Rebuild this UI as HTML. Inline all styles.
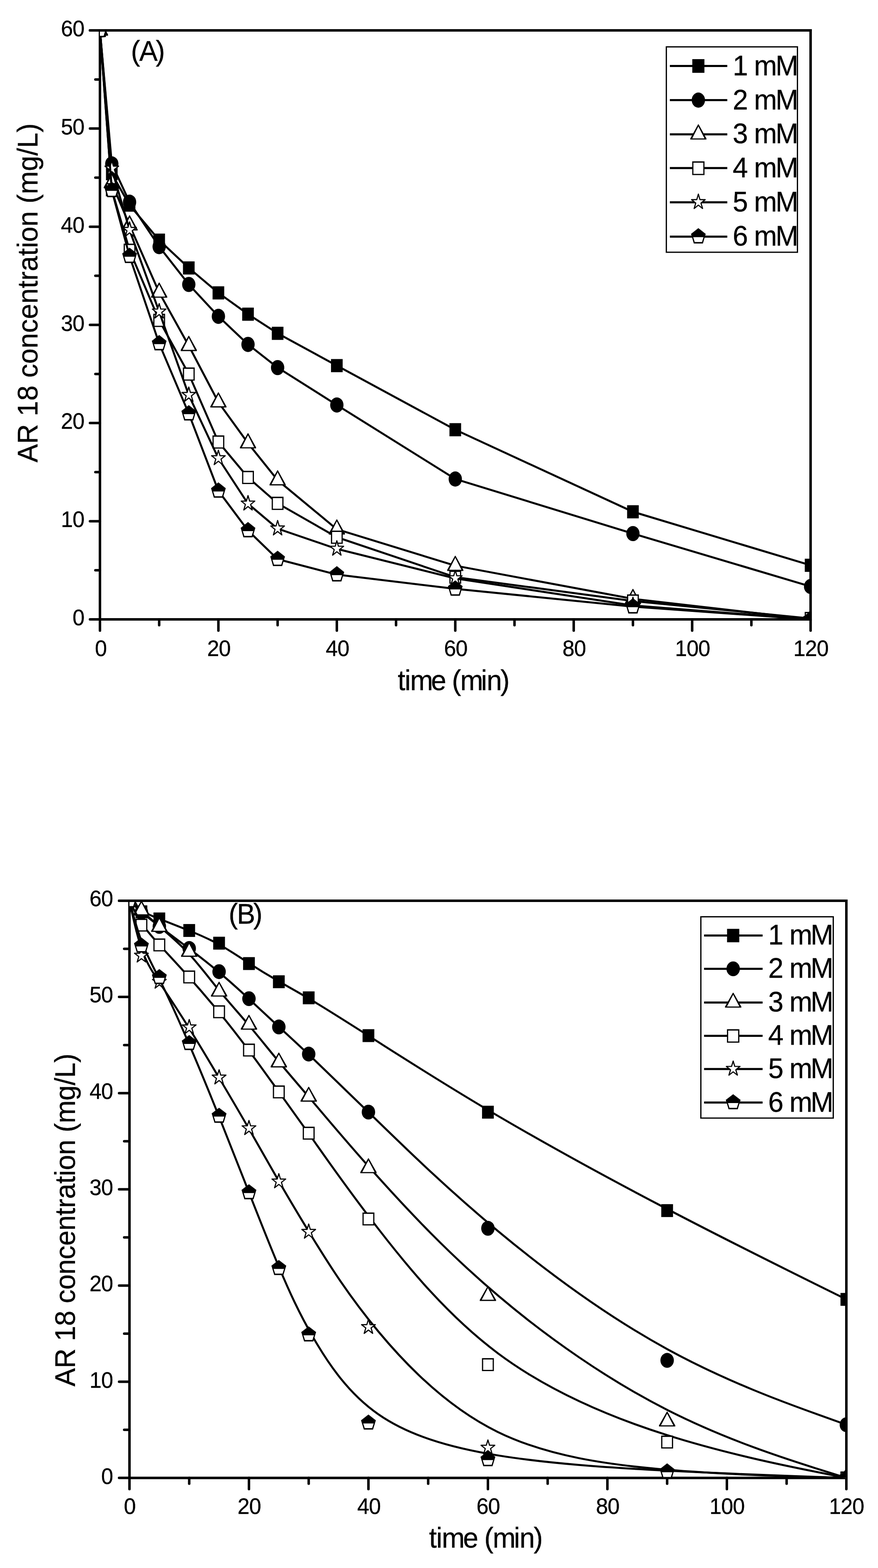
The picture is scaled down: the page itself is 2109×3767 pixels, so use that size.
<!DOCTYPE html>
<html lang="en"><head><meta charset="utf-8"><title>AR 18 concentration vs time</title>
<style>html,body{margin:0;padding:0;background:#fff}body{width:2109px;height:3767px;overflow:hidden}svg{display:block}text{font-family:'Liberation Sans', sans-serif;fill:#000}</style></head><body>
<svg width="2109" height="3767" viewBox="0 0 2109 3767">
<rect width="2109" height="3767" fill="#fff"/>
<g id="chartA">
<g stroke="#000" stroke-width="6" stroke-linecap="round" fill="none">
<line x1="240.1" y1="1488" x2="216.1" y2="1488"/>
<line x1="240.1" y1="1370.08" x2="229.1" y2="1370.08"/>
<line x1="240.1" y1="1252.17" x2="216.1" y2="1252.17"/>
<line x1="240.1" y1="1134.25" x2="229.1" y2="1134.25"/>
<line x1="240.1" y1="1016.33" x2="216.1" y2="1016.33"/>
<line x1="240.1" y1="898.42" x2="229.1" y2="898.42"/>
<line x1="240.1" y1="780.5" x2="216.1" y2="780.5"/>
<line x1="240.1" y1="662.58" x2="229.1" y2="662.58"/>
<line x1="240.1" y1="544.67" x2="216.1" y2="544.67"/>
<line x1="240.1" y1="426.75" x2="229.1" y2="426.75"/>
<line x1="240.1" y1="308.83" x2="216.1" y2="308.83"/>
<line x1="240.1" y1="190.92" x2="229.1" y2="190.92"/>
<line x1="240.1" y1="73" x2="216.1" y2="73"/>
<line x1="240.1" y1="1488" x2="240.1" y2="1515"/>
<line x1="382.35" y1="1488" x2="382.35" y2="1502"/>
<line x1="524.6" y1="1488" x2="524.6" y2="1515"/>
<line x1="666.85" y1="1488" x2="666.85" y2="1502"/>
<line x1="809.1" y1="1488" x2="809.1" y2="1515"/>
<line x1="951.35" y1="1488" x2="951.35" y2="1502"/>
<line x1="1093.6" y1="1488" x2="1093.6" y2="1515"/>
<line x1="1235.85" y1="1488" x2="1235.85" y2="1502"/>
<line x1="1378.1" y1="1488" x2="1378.1" y2="1515"/>
<line x1="1520.35" y1="1488" x2="1520.35" y2="1502"/>
<line x1="1662.6" y1="1488" x2="1662.6" y2="1515"/>
<line x1="1804.85" y1="1488" x2="1804.85" y2="1502"/>
<line x1="1947.1" y1="1488" x2="1947.1" y2="1515"/>
</g>
<rect x="240.1" y="73" width="1707" height="1415" fill="none" stroke="#000" stroke-width="6"/>
<clipPath id="clipA"><rect x="240.1" y="73" width="1707" height="1415"/></clipPath>
<g clip-path="url(#clipA)">
<path d="M240.1,73 L268.55,417.32 L311.23,492.78 L382.35,576.98 L453.48,643.72 L524.6,703.62 L595.73,754.79 L666.85,800.78 L809.1,878.37 L1093.6,1032.37 L1520.35,1229.53 L1947.1,1358.06" fill="none" stroke="#000" stroke-width="4.8" stroke-linejoin="round"/>
<rect x="226.1" y="57.2" width="28" height="31.6" fill="#000"/>
<rect x="254.55" y="401.52" width="28" height="31.6" fill="#000"/>
<rect x="297.23" y="476.98" width="28" height="31.6" fill="#000"/>
<rect x="368.35" y="561.18" width="28" height="31.6" fill="#000"/>
<rect x="439.48" y="627.92" width="28" height="31.6" fill="#000"/>
<rect x="510.6" y="687.82" width="28" height="31.6" fill="#000"/>
<rect x="581.73" y="738.99" width="28" height="31.6" fill="#000"/>
<rect x="652.85" y="784.98" width="28" height="31.6" fill="#000"/>
<rect x="795.1" y="862.57" width="28" height="31.6" fill="#000"/>
<rect x="1079.6" y="1016.57" width="28" height="31.6" fill="#000"/>
<rect x="1506.35" y="1213.73" width="28" height="31.6" fill="#000"/>
<rect x="1933.1" y="1342.26" width="28" height="31.6" fill="#000"/>
<path d="M240.1,73 L268.55,393.73 L311.23,485.71 L382.35,592.54 L453.48,683.34 L524.6,759.98 L595.73,827.43 L666.85,883.09 L809.1,972.94 L1093.6,1150.76 L1520.35,1281.88 L1947.1,1409" fill="none" stroke="#000" stroke-width="4.8" stroke-linejoin="round"/>
<ellipse cx="240.1" cy="73" rx="16" ry="18.2" fill="#000"/>
<ellipse cx="268.55" cy="393.73" rx="16" ry="18.2" fill="#000"/>
<ellipse cx="311.23" cy="485.71" rx="16" ry="18.2" fill="#000"/>
<ellipse cx="382.35" cy="592.54" rx="16" ry="18.2" fill="#000"/>
<ellipse cx="453.48" cy="683.34" rx="16" ry="18.2" fill="#000"/>
<ellipse cx="524.6" cy="759.98" rx="16" ry="18.2" fill="#000"/>
<ellipse cx="595.73" cy="827.43" rx="16" ry="18.2" fill="#000"/>
<ellipse cx="666.85" cy="883.09" rx="16" ry="18.2" fill="#000"/>
<ellipse cx="809.1" cy="972.94" rx="16" ry="18.2" fill="#000"/>
<ellipse cx="1093.6" cy="1150.76" rx="16" ry="18.2" fill="#000"/>
<ellipse cx="1520.35" cy="1281.88" rx="16" ry="18.2" fill="#000"/>
<ellipse cx="1947.1" cy="1409" rx="16" ry="18.2" fill="#000"/>
<path d="M240.1,73 L268.55,439.72 L311.23,541.13 L382.35,702.68 L453.48,830.73 L524.6,966.34 L595.73,1064.68 L666.85,1153.59 L809.1,1271.51 L1093.6,1359 L1520.35,1438.71 L1947.1,1488" fill="none" stroke="#000" stroke-width="4.8" stroke-linejoin="round"/>
<polygon points="239.38,49.14 240.82,49.14 259.5,83.09 259.5,85.65 220.7,85.65 220.7,83.09" fill="#000"/><polygon points="240.1,54.07 254.76,82.75 225.44,82.75" fill="#fff"/>
<polygon points="267.83,415.86 269.27,415.86 287.95,449.81 287.95,452.37 249.15,452.37 249.15,449.81" fill="#000"/><polygon points="268.55,420.79 283.21,449.47 253.89,449.47" fill="#fff"/>
<polygon points="310.5,517.27 311.95,517.27 330.62,551.22 330.62,553.78 291.83,553.78 291.83,551.22" fill="#000"/><polygon points="311.23,522.2 325.89,550.88 296.56,550.88" fill="#fff"/>
<polygon points="381.63,678.82 383.07,678.82 401.75,712.77 401.75,715.33 362.95,715.33 362.95,712.77" fill="#000"/><polygon points="382.35,683.75 397.01,712.43 367.69,712.43" fill="#fff"/>
<polygon points="452.75,806.87 454.2,806.87 472.88,840.82 472.88,843.38 434.08,843.38 434.08,840.82" fill="#000"/><polygon points="453.48,811.8 468.14,840.48 438.81,840.48" fill="#fff"/>
<polygon points="523.88,942.48 525.32,942.48 544,976.43 544,978.99 505.2,978.99 505.2,976.43" fill="#000"/><polygon points="524.6,947.41 539.26,976.09 509.94,976.09" fill="#fff"/>
<polygon points="595,1040.82 596.45,1040.82 615.12,1074.77 615.12,1077.33 576.33,1077.33 576.33,1074.77" fill="#000"/><polygon points="595.73,1045.75 610.39,1074.43 581.06,1074.43" fill="#fff"/>
<polygon points="666.13,1129.73 667.57,1129.73 686.25,1163.68 686.25,1166.24 647.45,1166.24 647.45,1163.68" fill="#000"/><polygon points="666.85,1134.66 681.51,1163.34 652.19,1163.34" fill="#fff"/>
<polygon points="808.38,1247.65 809.82,1247.65 828.5,1281.6 828.5,1284.16 789.7,1284.16 789.7,1281.6" fill="#000"/><polygon points="809.1,1252.58 823.76,1281.26 794.44,1281.26" fill="#fff"/>
<polygon points="1092.88,1335.14 1094.32,1335.14 1113,1369.09 1113,1371.65 1074.2,1371.65 1074.2,1369.09" fill="#000"/><polygon points="1093.6,1340.07 1108.26,1368.75 1078.94,1368.75" fill="#fff"/>
<polygon points="1519.63,1414.85 1521.07,1414.85 1539.75,1448.8 1539.75,1451.36 1500.95,1451.36 1500.95,1448.8" fill="#000"/><polygon points="1520.35,1419.78 1535.01,1448.46 1505.69,1448.46" fill="#fff"/>
<polygon points="1946.38,1464.14 1947.82,1464.14 1966.5,1498.09 1966.5,1500.65 1927.7,1500.65 1927.7,1498.09" fill="#000"/><polygon points="1947.1,1469.07 1961.76,1497.75 1932.44,1497.75" fill="#fff"/>
<path d="M240.1,73 L268.55,455.76 L311.23,601.27 L382.35,769.65 L453.48,898.65 L524.6,1061.85 L595.73,1146.98 L666.85,1209.24 L809.1,1290.61 L1093.6,1386.59 L1520.35,1443.9 L1947.1,1485.88" fill="none" stroke="#000" stroke-width="4.8" stroke-linejoin="round"/>
<rect x="225.9" y="57.1" width="28.4" height="31.8" fill="#000"/><rect x="228.8" y="60.4" width="22.6" height="25.6" fill="#fff"/>
<rect x="254.35" y="439.86" width="28.4" height="31.8" fill="#000"/><rect x="257.25" y="443.16" width="22.6" height="25.6" fill="#fff"/>
<rect x="297.03" y="585.37" width="28.4" height="31.8" fill="#000"/><rect x="299.93" y="588.67" width="22.6" height="25.6" fill="#fff"/>
<rect x="368.15" y="753.75" width="28.4" height="31.8" fill="#000"/><rect x="371.05" y="757.05" width="22.6" height="25.6" fill="#fff"/>
<rect x="439.28" y="882.75" width="28.4" height="31.8" fill="#000"/><rect x="442.18" y="886.05" width="22.6" height="25.6" fill="#fff"/>
<rect x="510.4" y="1045.95" width="28.4" height="31.8" fill="#000"/><rect x="513.3" y="1049.25" width="22.6" height="25.6" fill="#fff"/>
<rect x="581.52" y="1131.08" width="28.4" height="31.8" fill="#000"/><rect x="584.42" y="1134.38" width="22.6" height="25.6" fill="#fff"/>
<rect x="652.65" y="1193.34" width="28.4" height="31.8" fill="#000"/><rect x="655.55" y="1196.64" width="22.6" height="25.6" fill="#fff"/>
<rect x="794.9" y="1274.71" width="28.4" height="31.8" fill="#000"/><rect x="797.8" y="1278.01" width="22.6" height="25.6" fill="#fff"/>
<rect x="1079.4" y="1370.69" width="28.4" height="31.8" fill="#000"/><rect x="1082.3" y="1373.99" width="22.6" height="25.6" fill="#fff"/>
<rect x="1506.15" y="1428" width="28.4" height="31.8" fill="#000"/><rect x="1509.05" y="1431.3" width="22.6" height="25.6" fill="#fff"/>
<rect x="1932.9" y="1469.98" width="28.4" height="31.8" fill="#000"/><rect x="1935.8" y="1473.28" width="22.6" height="25.6" fill="#fff"/>
<path d="M240.1,73 L268.55,405.53 L311.23,552.69 L382.35,748.9 L453.48,949.36 L524.6,1101.23 L595.73,1210.19 L666.85,1270.09 L809.1,1318.67 L1093.6,1389.66 L1520.35,1454.51 L1947.1,1488" fill="none" stroke="#000" stroke-width="4.8" stroke-linejoin="round"/>
<polygon points="240.1,53.4 243.96,66.6 256.46,66.6 246.35,74.75 250.21,87.95 240.1,79.8 229.99,87.95 233.85,74.75 223.74,66.6 236.24,66.6" fill="#fff" stroke="#000" stroke-width="2.7" stroke-linejoin="round"/>
<polygon points="268.55,385.93 272.41,399.12 284.91,399.12 274.8,407.28 278.66,420.48 268.55,412.32 258.44,420.48 262.3,407.28 252.19,399.12 264.69,399.12" fill="#fff" stroke="#000" stroke-width="2.7" stroke-linejoin="round"/>
<polygon points="311.23,533.09 315.09,546.28 327.58,546.28 317.47,554.44 321.33,567.64 311.23,559.48 301.12,567.64 304.98,554.44 294.87,546.28 307.36,546.28" fill="#fff" stroke="#000" stroke-width="2.7" stroke-linejoin="round"/>
<polygon points="382.35,729.3 386.21,742.5 398.71,742.5 388.6,750.65 392.46,763.85 382.35,755.69 372.24,763.85 376.1,750.65 365.99,742.5 378.49,742.5" fill="#fff" stroke="#000" stroke-width="2.7" stroke-linejoin="round"/>
<polygon points="453.48,929.76 457.34,942.95 469.83,942.95 459.72,951.11 463.58,964.31 453.48,956.15 443.37,964.31 447.23,951.11 437.12,942.95 449.61,942.95" fill="#fff" stroke="#000" stroke-width="2.7" stroke-linejoin="round"/>
<polygon points="524.6,1081.63 528.46,1094.83 540.96,1094.83 530.85,1102.99 534.71,1116.19 524.6,1108.03 514.49,1116.19 518.35,1102.99 508.24,1094.83 520.74,1094.83" fill="#fff" stroke="#000" stroke-width="2.7" stroke-linejoin="round"/>
<polygon points="595.73,1190.59 599.59,1203.79 612.08,1203.79 601.97,1211.94 605.83,1225.14 595.73,1216.98 585.62,1225.14 589.48,1211.94 579.37,1203.79 591.86,1203.79" fill="#fff" stroke="#000" stroke-width="2.7" stroke-linejoin="round"/>
<polygon points="666.85,1250.49 670.71,1263.69 683.21,1263.69 673.1,1271.84 676.96,1285.04 666.85,1276.89 656.74,1285.04 660.6,1271.84 650.49,1263.69 662.99,1263.69" fill="#fff" stroke="#000" stroke-width="2.7" stroke-linejoin="round"/>
<polygon points="809.1,1299.07 812.96,1312.27 825.46,1312.27 815.35,1320.43 819.21,1333.62 809.1,1325.47 798.99,1333.62 802.85,1320.43 792.74,1312.27 805.24,1312.27" fill="#fff" stroke="#000" stroke-width="2.7" stroke-linejoin="round"/>
<polygon points="1093.6,1370.06 1097.46,1383.25 1109.96,1383.26 1099.85,1391.41 1103.71,1404.61 1093.6,1396.45 1083.49,1404.61 1087.35,1391.41 1077.24,1383.26 1089.74,1383.25" fill="#fff" stroke="#000" stroke-width="2.7" stroke-linejoin="round"/>
<polygon points="1520.35,1434.91 1524.21,1448.11 1536.71,1448.11 1526.6,1456.27 1530.46,1469.46 1520.35,1461.31 1510.24,1469.46 1514.1,1456.27 1503.99,1448.11 1516.49,1448.11" fill="#fff" stroke="#000" stroke-width="2.7" stroke-linejoin="round"/>
<polygon points="1947.1,1468.4 1950.96,1481.6 1963.46,1481.6 1953.35,1489.75 1957.21,1502.95 1947.1,1494.8 1936.99,1502.95 1940.85,1489.75 1930.74,1481.6 1943.24,1481.6" fill="#fff" stroke="#000" stroke-width="2.7" stroke-linejoin="round"/>
<path d="M240.1,73 L268.55,457.17 L311.23,615.42 L382.35,825.31 L453.48,993.69 L524.6,1179.29 L595.73,1274.57 L666.85,1343.43 L809.1,1380.46 L1093.6,1414.66 L1520.35,1457.34 L1947.1,1488" fill="none" stroke="#000" stroke-width="4.8" stroke-linejoin="round"/>
<polygon points="240.1,52.55 257.79,66.68 251.03,89.54 229.17,89.54 222.41,66.68" fill="#000"/><polygon points="227.72,74.4 252.48,74.4 248.87,86.04 231.33,86.04" fill="#fff"/>
<polygon points="268.55,436.72 286.24,450.85 279.48,473.72 257.62,473.72 250.86,450.85" fill="#000"/><polygon points="256.17,458.57 280.93,458.57 277.32,470.22 259.78,470.22" fill="#fff"/>
<polygon points="311.23,594.97 328.91,609.1 322.16,631.96 300.29,631.96 293.54,609.1" fill="#000"/><polygon points="298.84,616.82 323.61,616.82 319.99,628.46 302.46,628.46" fill="#fff"/>
<polygon points="382.35,804.86 400.04,818.99 393.28,841.85 371.42,841.85 364.66,818.99" fill="#000"/><polygon points="369.97,826.71 394.73,826.71 391.12,838.35 373.58,838.35" fill="#fff"/>
<polygon points="453.48,973.24 471.16,987.37 464.41,1010.24 442.54,1010.24 435.79,987.37" fill="#000"/><polygon points="441.09,995.09 465.86,995.09 462.24,1006.74 444.71,1006.74" fill="#fff"/>
<polygon points="524.6,1158.84 542.29,1172.97 535.53,1195.84 513.67,1195.84 506.91,1172.97" fill="#000"/><polygon points="512.22,1180.69 536.98,1180.69 533.37,1192.34 515.83,1192.34" fill="#fff"/>
<polygon points="595.73,1254.12 613.41,1268.25 606.66,1291.12 584.79,1291.12 578.04,1268.25" fill="#000"/><polygon points="583.34,1275.97 608.11,1275.97 604.49,1287.62 586.96,1287.62" fill="#fff"/>
<polygon points="666.85,1322.98 684.54,1337.11 677.78,1359.98 655.92,1359.98 649.16,1337.11" fill="#000"/><polygon points="654.47,1344.83 679.23,1344.83 675.62,1356.48 658.08,1356.48" fill="#fff"/>
<polygon points="809.1,1360.01 826.79,1374.14 820.03,1397 798.17,1397 791.41,1374.14" fill="#000"/><polygon points="796.72,1381.86 821.48,1381.86 817.87,1393.5 800.33,1393.5" fill="#fff"/>
<polygon points="1093.6,1394.21 1111.29,1408.34 1104.53,1431.2 1082.67,1431.2 1075.91,1408.34" fill="#000"/><polygon points="1081.22,1416.06 1105.98,1416.06 1102.37,1427.7 1084.83,1427.7" fill="#fff"/>
<polygon points="1520.35,1436.89 1538.04,1451.02 1531.28,1473.89 1509.42,1473.89 1502.66,1451.02" fill="#000"/><polygon points="1507.97,1458.74 1532.73,1458.74 1529.12,1470.39 1511.58,1470.39" fill="#fff"/>
<polygon points="1947.1,1467.55 1964.79,1481.68 1958.03,1504.54 1936.17,1504.54 1929.41,1481.68" fill="#000"/><polygon points="1934.72,1489.4 1959.48,1489.4 1955.87,1501.04 1938.33,1501.04" fill="#fff"/>
</g>
<line x1="216.1" y1="73" x2="1947.1" y2="73" stroke="#000" stroke-width="6" stroke-linecap="round"/>
<text transform="translate(174.35,1502) scale(0.966,1)" x="0" y="0" font-size="54" stroke="#000" stroke-width="0.4" xml:space="preserve">0</text>
<text transform="translate(146.36,1266.23) scale(0.966,1)" x="0 28.98" y="0" font-size="54" stroke="#000" stroke-width="0.4" xml:space="preserve">10</text>
<text transform="translate(146.36,1030.47) scale(0.966,1)" x="0 28.98" y="0" font-size="54" stroke="#000" stroke-width="0.4" xml:space="preserve">20</text>
<text transform="translate(146.36,794.7) scale(0.966,1)" x="0 28.98" y="0" font-size="54" stroke="#000" stroke-width="0.4" xml:space="preserve">30</text>
<text transform="translate(146.36,558.93) scale(0.966,1)" x="0 28.98" y="0" font-size="54" stroke="#000" stroke-width="0.4" xml:space="preserve">40</text>
<text transform="translate(146.36,323.17) scale(0.966,1)" x="0 28.98" y="0" font-size="54" stroke="#000" stroke-width="0.4" xml:space="preserve">50</text>
<text transform="translate(146.36,87.4) scale(0.966,1)" x="0 28.98" y="0" font-size="54" stroke="#000" stroke-width="0.4" xml:space="preserve">60</text>
<text transform="translate(227.91,1575.8) scale(0.966,1)" x="0" y="0" font-size="54" stroke="#000" stroke-width="0.4" xml:space="preserve">0</text>
<text transform="translate(497.56,1575.8) scale(0.966,1)" x="0 28.98" y="0" font-size="54" stroke="#000" stroke-width="0.4" xml:space="preserve">20</text>
<text transform="translate(782.55,1575.8) scale(0.966,1)" x="0 28.98" y="0" font-size="54" stroke="#000" stroke-width="0.4" xml:space="preserve">40</text>
<text transform="translate(1066.56,1575.8) scale(0.966,1)" x="0 28.98" y="0" font-size="54" stroke="#000" stroke-width="0.4" xml:space="preserve">60</text>
<text transform="translate(1351.06,1575.8) scale(0.966,1)" x="0 28.98" y="0" font-size="54" stroke="#000" stroke-width="0.4" xml:space="preserve">80</text>
<text transform="translate(1621.36,1575.8) scale(0.966,1)" x="0 28.98 57.96" y="0" font-size="54" stroke="#000" stroke-width="0.4" xml:space="preserve">100</text>
<text transform="translate(1905.86,1575.8) scale(0.966,1)" x="0 28.98 57.96" y="0" font-size="54" stroke="#000" stroke-width="0.4" xml:space="preserve">120</text>
<text transform="translate(955.23,1658) scale(0.966,1)" x="0 17.29 31.11 82.94 117.54 134.83 155.55 207.38 221.21 255.81" y="0" font-size="68.5" stroke="#000" stroke-width="0.4" xml:space="preserve">time (min)</text>
<text transform="translate(90,1111) rotate(-90) translate(0,0) scale(0.966,1)" x="0 46.01 95.83 114.99 153.36 191.72 210.89 245.38 283.74 322.11 356.6 394.96 433.33 452.49 475.47 513.83 533 548.32 586.69 625.05 644.22 667.19 724.65 763.01 782.18 820.54" y="0" font-size="68.5" stroke="#000" stroke-width="0.4" xml:space="preserve">AR 18 concentration (mg/L)</text>
<text transform="translate(314.54,146.2) scale(0.966,1)" x="0 20.55 61.71" y="0" font-size="68.5" stroke="#000" stroke-width="0.4" xml:space="preserve">(A)</text>
<rect x="1600.6" y="112.6" width="314.9" height="493.4" fill="#fff" stroke="#000" stroke-width="3"/>
<line x1="1609" y1="158.5" x2="1747" y2="158.5" stroke="#000" stroke-width="5" stroke-linecap="butt"/>
<rect x="1662.94" y="142.07" width="29.12" height="32.86" fill="#000"/>
<text transform="translate(1760,180.8) scale(0.966,1)" x="0 35.46 53.17 106.28" y="0" font-size="68.5" stroke="#000" stroke-width="0.4" xml:space="preserve">1 mM</text>
<line x1="1609" y1="240.5" x2="1747" y2="240.5" stroke="#000" stroke-width="5" stroke-linecap="butt"/>
<ellipse cx="1677.5" cy="240.5" rx="16" ry="18.2" fill="#000"/>
<text transform="translate(1760,262.58) scale(0.966,1)" x="0 35.46 53.17 106.28" y="0" font-size="68.5" stroke="#000" stroke-width="0.4" xml:space="preserve">2 mM</text>
<line x1="1609" y1="322.7" x2="1747" y2="322.7" stroke="#000" stroke-width="5" stroke-linecap="butt"/>
<polygon points="1676.78,298.84 1678.22,298.84 1696.9,332.79 1696.9,335.35 1658.1,335.35 1658.1,332.79" fill="#000"/><polygon points="1677.5,303.77 1692.16,332.45 1662.84,332.45" fill="#fff"/>
<text transform="translate(1760,344.36) scale(0.966,1)" x="0 35.46 53.17 106.28" y="0" font-size="68.5" stroke="#000" stroke-width="0.4" xml:space="preserve">3 mM</text>
<line x1="1609" y1="403.7" x2="1747" y2="403.7" stroke="#000" stroke-width="5" stroke-linecap="butt"/>
<rect x="1662.73" y="387.56" width="29.54" height="33.07" fill="#000"/><rect x="1665.63" y="390.86" width="23.74" height="26.87" fill="#fff"/>
<text transform="translate(1760,426.14) scale(0.966,1)" x="0 35.46 53.17 106.28" y="0" font-size="68.5" stroke="#000" stroke-width="0.4" xml:space="preserve">4 mM</text>
<line x1="1609" y1="486" x2="1747" y2="486" stroke="#000" stroke-width="5" stroke-linecap="butt"/>
<polygon points="1677.5,466.4 1681.36,479.6 1693.86,479.6 1683.75,487.75 1687.61,500.95 1677.5,492.8 1667.39,500.95 1671.25,487.75 1661.14,479.6 1673.64,479.6" fill="#fff" stroke="#000" stroke-width="2.7" stroke-linejoin="round"/>
<text transform="translate(1760,507.92) scale(0.966,1)" x="0 35.46 53.17 106.28" y="0" font-size="68.5" stroke="#000" stroke-width="0.4" xml:space="preserve">5 mM</text>
<line x1="1609" y1="568.4" x2="1747" y2="568.4" stroke="#000" stroke-width="5" stroke-linecap="butt"/>
<polygon points="1677.5,547.95 1695.19,562.08 1688.43,584.94 1666.57,584.94 1659.81,562.08" fill="#000"/><polygon points="1665.12,569.8 1689.88,569.8 1686.27,581.44 1668.73,581.44" fill="#fff"/>
<text transform="translate(1760,589.7) scale(0.966,1)" x="0 35.46 53.17 106.28" y="0" font-size="68.5" stroke="#000" stroke-width="0.4" xml:space="preserve">6 mM</text>
</g>
<g id="chartB">
<g stroke="#000" stroke-width="6" stroke-linecap="round" fill="none">
<line x1="311" y1="3550.6" x2="286" y2="3550.6"/>
<line x1="311" y1="3435.05" x2="298.3" y2="3435.05"/>
<line x1="311" y1="3319.5" x2="286" y2="3319.5"/>
<line x1="311" y1="3203.95" x2="298.3" y2="3203.95"/>
<line x1="311" y1="3088.4" x2="286" y2="3088.4"/>
<line x1="311" y1="2972.85" x2="298.3" y2="2972.85"/>
<line x1="311" y1="2857.3" x2="286" y2="2857.3"/>
<line x1="311" y1="2741.75" x2="298.3" y2="2741.75"/>
<line x1="311" y1="2626.2" x2="286" y2="2626.2"/>
<line x1="311" y1="2510.65" x2="298.3" y2="2510.65"/>
<line x1="311" y1="2395.1" x2="286" y2="2395.1"/>
<line x1="311" y1="2279.55" x2="298.3" y2="2279.55"/>
<line x1="311" y1="2164" x2="286" y2="2164"/>
<line x1="311" y1="3550.6" x2="311" y2="3577.6"/>
<line x1="454.5" y1="3550.6" x2="454.5" y2="3564.6"/>
<line x1="598" y1="3550.6" x2="598" y2="3577.6"/>
<line x1="741.5" y1="3550.6" x2="741.5" y2="3564.6"/>
<line x1="885" y1="3550.6" x2="885" y2="3577.6"/>
<line x1="1028.5" y1="3550.6" x2="1028.5" y2="3564.6"/>
<line x1="1172" y1="3550.6" x2="1172" y2="3577.6"/>
<line x1="1315.5" y1="3550.6" x2="1315.5" y2="3564.6"/>
<line x1="1459" y1="3550.6" x2="1459" y2="3577.6"/>
<line x1="1602.5" y1="3550.6" x2="1602.5" y2="3564.6"/>
<line x1="1746" y1="3550.6" x2="1746" y2="3577.6"/>
<line x1="1889.5" y1="3550.6" x2="1889.5" y2="3564.6"/>
<line x1="2033" y1="3550.6" x2="2033" y2="3577.6"/>
</g>
<rect x="311" y="2164" width="1722" height="1386.6" fill="none" stroke="#000" stroke-width="6"/>
<clipPath id="clipB"><rect x="311" y="2164" width="1722" height="1386.6"/></clipPath>
<g clip-path="url(#clipB)">
<path d="M311.0,2164.0C311.0,2164.0 311.0,2164.0 315.8,2168.4C320.6,2172.9 330.1,2181.7 342.1,2189.0C354.1,2196.3 368.4,2202.0 387.5,2209.4C406.7,2216.9 430.6,2226.2 454.5,2235.9C478.4,2245.6 502.3,2255.7 526.2,2269.0C550.2,2282.2 574.1,2298.6 598.0,2314.0C621.9,2329.5 645.8,2344.0 669.8,2357.7C693.7,2371.5 717.6,2384.3 753.5,2405.9C789.3,2427.5 837.2,2457.7 908.9,2503.5C980.7,2549.3 1076.3,2610.6 1195.9,2680.7C1315.5,2750.8 1459.0,2829.6 1602.5,2904.5C1746.0,2979.5 1889.5,3050.6 1961.2,3086.1C2033.0,3121.7 2033.0,3121.7 2033.0,3121.7" fill="none" stroke="#000" stroke-width="4.8" stroke-linejoin="round"/>
<rect x="296.88" y="2148.52" width="28.25" height="30.97" fill="#000"/>
<rect x="325.58" y="2175.09" width="28.25" height="30.97" fill="#000"/>
<rect x="368.63" y="2192.19" width="28.25" height="30.97" fill="#000"/>
<rect x="440.38" y="2219.93" width="28.25" height="30.97" fill="#000"/>
<rect x="512.13" y="2250.43" width="28.25" height="30.97" fill="#000"/>
<rect x="583.88" y="2299.42" width="28.25" height="30.97" fill="#000"/>
<rect x="655.63" y="2343.1" width="28.25" height="30.97" fill="#000"/>
<rect x="727.38" y="2381.7" width="28.25" height="30.97" fill="#000"/>
<rect x="870.88" y="2472.52" width="28.25" height="30.97" fill="#000"/>
<rect x="1157.88" y="2656.47" width="28.25" height="30.97" fill="#000"/>
<rect x="1588.38" y="2892.89" width="28.25" height="30.97" fill="#000"/>
<rect x="2018.88" y="3106.19" width="28.25" height="30.97" fill="#000"/>
<path d="M311.0,2164.0C311.0,2164.0 311.0,2164.0 315.8,2168.6C320.6,2173.2 330.1,2182.5 342.1,2192.8C354.1,2203.1 368.4,2214.4 387.5,2228.9C406.7,2243.3 430.6,2261.0 454.5,2279.1C478.4,2297.2 502.3,2315.8 526.2,2335.9C550.2,2356.0 574.1,2377.6 598.0,2399.8C621.9,2421.9 645.8,2444.6 669.8,2466.7C693.7,2488.9 717.6,2510.7 753.5,2544.7C789.3,2578.8 837.2,2625.3 908.9,2695.0C980.7,2764.8 1076.3,2857.8 1195.9,2957.3C1315.5,3056.7 1459.0,3162.4 1602.5,3241.1C1746.0,3319.7 1889.5,3371.3 1961.2,3397.0C2033.0,3422.8 2033.0,3422.8 2033.0,3422.8" fill="none" stroke="#000" stroke-width="4.8" stroke-linejoin="round"/>
<ellipse cx="311" cy="2164" rx="16.14" ry="17.84" fill="#000"/>
<ellipse cx="339.7" cy="2191.73" rx="16.14" ry="17.84" fill="#000"/>
<ellipse cx="382.75" cy="2225.7" rx="16.14" ry="17.84" fill="#000"/>
<ellipse cx="454.5" cy="2278.63" rx="16.14" ry="17.84" fill="#000"/>
<ellipse cx="526.25" cy="2334.32" rx="16.14" ry="17.84" fill="#000"/>
<ellipse cx="598" cy="2399.26" rx="16.14" ry="17.84" fill="#000"/>
<ellipse cx="669.75" cy="2467.2" rx="16.14" ry="17.84" fill="#000"/>
<ellipse cx="741.5" cy="2532.37" rx="16.14" ry="17.84" fill="#000"/>
<ellipse cx="885" cy="2671.73" rx="16.14" ry="17.84" fill="#000"/>
<ellipse cx="1172" cy="2950.9" rx="16.14" ry="17.84" fill="#000"/>
<ellipse cx="1602.5" cy="3268.2" rx="16.14" ry="17.84" fill="#000"/>
<ellipse cx="2033" cy="3422.8" rx="16.14" ry="17.84" fill="#000"/>
<path d="M311.0,2164.0C311.0,2164.0 311.0,2164.0 315.8,2167.9C320.6,2171.7 330.1,2179.4 342.1,2189.8C354.1,2200.2 368.4,2213.3 387.5,2229.8C406.7,2246.3 430.6,2266.3 454.5,2292.2C478.4,2318.1 502.3,2350.0 526.2,2379.2C550.2,2408.4 574.1,2434.9 598.0,2463.3C621.9,2491.6 645.8,2521.8 669.8,2550.6C693.7,2579.4 717.6,2606.9 753.5,2649.2C789.3,2691.6 837.2,2748.9 908.9,2828.7C980.7,2908.5 1076.3,3010.8 1195.9,3112.2C1315.5,3213.7 1459.0,3314.2 1602.5,3387.1C1746.0,3460.0 1889.5,3505.3 1961.2,3528.0C2033.0,3550.6 2033.0,3550.6 2033.0,3550.6" fill="none" stroke="#000" stroke-width="4.8" stroke-linejoin="round"/>
<polygon points="310.28,2140.65 311.72,2140.65 330.57,2173.84 330.57,2176.4 291.43,2176.4 291.43,2173.84" fill="#000"/><polygon points="311,2145.43 325.77,2173.5 296.23,2173.5" fill="#fff"/>
<polygon points="338.98,2163.76 340.42,2163.76 359.27,2196.95 359.27,2199.51 320.13,2199.51 320.13,2196.95" fill="#000"/><polygon points="339.7,2168.54 354.47,2196.61 324.93,2196.61" fill="#fff"/>
<polygon points="382.03,2203.04 383.47,2203.04 402.32,2236.23 402.32,2238.79 363.18,2238.79 363.18,2236.23" fill="#000"/><polygon points="382.75,2207.83 397.52,2235.89 367.98,2235.89" fill="#fff"/>
<polygon points="453.78,2262.9 455.22,2262.9 474.07,2296.09 474.07,2298.65 434.93,2298.65 434.93,2296.09" fill="#000"/><polygon points="454.5,2267.69 469.27,2295.75 439.73,2295.75" fill="#fff"/>
<polygon points="525.53,2358.57 526.97,2358.57 545.82,2391.76 545.82,2394.32 506.68,2394.32 506.68,2391.76" fill="#000"/><polygon points="526.25,2363.36 541.02,2391.42 511.48,2391.42" fill="#fff"/>
<polygon points="597.28,2438.07 598.72,2438.07 617.57,2471.26 617.57,2473.82 578.43,2473.82 578.43,2471.26" fill="#000"/><polygon points="598,2442.86 612.77,2470.92 583.23,2470.92" fill="#fff"/>
<polygon points="669.03,2528.66 670.47,2528.66 689.32,2561.85 689.32,2564.41 650.18,2564.41 650.18,2561.85" fill="#000"/><polygon points="669.75,2533.45 684.52,2561.51 654.98,2561.51" fill="#fff"/>
<polygon points="740.78,2610.93 742.22,2610.93 761.07,2644.13 761.07,2646.69 721.93,2646.69 721.93,2644.13" fill="#000"/><polygon points="741.5,2615.72 756.27,2643.79 726.73,2643.79" fill="#fff"/>
<polygon points="884.28,2782.87 885.72,2782.87 904.57,2816.06 904.57,2818.62 865.43,2818.62 865.43,2816.06" fill="#000"/><polygon points="885,2787.66 899.77,2815.72 870.23,2815.72" fill="#fff"/>
<polygon points="1171.28,3089.77 1172.72,3089.77 1191.57,3122.96 1191.57,3125.52 1152.43,3125.52 1152.43,3122.96" fill="#000"/><polygon points="1172,3094.56 1186.77,3122.62 1157.23,3122.62" fill="#fff"/>
<polygon points="1601.78,3391.36 1603.22,3391.36 1622.07,3424.55 1622.07,3427.11 1582.93,3427.11 1582.93,3424.55" fill="#000"/><polygon points="1602.5,3396.15 1617.27,3424.21 1587.73,3424.21" fill="#fff"/>
<polygon points="2032.28,3527.25 2033.72,3527.25 2052.57,3560.44 2052.57,3563 2013.43,3563 2013.43,3560.44" fill="#000"/><polygon points="2033,3532.03 2047.77,3560.1 2018.23,3560.1" fill="#fff"/>
<path d="M311.0,2164.0C311.0,2164.0 311.0,2164.0 315.8,2173.7C320.6,2183.5 330.1,2203.0 342.1,2220.7C354.1,2238.3 368.4,2254.2 387.5,2275.0C406.7,2295.7 430.6,2321.4 454.5,2348.1C478.4,2374.9 502.3,2402.8 526.2,2432.1C550.2,2461.3 574.1,2492.0 598.0,2524.1C621.9,2556.2 645.8,2589.7 669.8,2623.0C693.7,2656.2 717.6,2689.3 753.5,2740.2C789.3,2791.1 837.2,2859.8 908.9,2952.4C980.7,3045.1 1076.3,3161.7 1195.9,3251.1C1315.5,3340.4 1459.0,3402.4 1602.5,3447.8C1746.0,3493.1 1889.5,3521.9 1961.2,3536.2C2033.0,3550.6 2033.0,3550.6 2033.0,3550.6" fill="none" stroke="#000" stroke-width="4.8" stroke-linejoin="round"/>
<rect x="296.68" y="2148.42" width="28.65" height="31.16" fill="#000"/><rect x="299.58" y="2151.72" width="22.85" height="24.96" fill="#fff"/>
<rect x="325.38" y="2206.89" width="28.65" height="31.16" fill="#000"/><rect x="328.28" y="2210.19" width="22.85" height="24.96" fill="#fff"/>
<rect x="368.43" y="2254.49" width="28.65" height="31.16" fill="#000"/><rect x="371.33" y="2257.79" width="22.85" height="24.96" fill="#fff"/>
<rect x="440.18" y="2331.45" width="28.65" height="31.16" fill="#000"/><rect x="443.08" y="2334.75" width="22.85" height="24.96" fill="#fff"/>
<rect x="511.93" y="2415.11" width="28.65" height="31.16" fill="#000"/><rect x="514.83" y="2418.41" width="22.85" height="24.96" fill="#fff"/>
<rect x="583.68" y="2507.09" width="28.65" height="31.16" fill="#000"/><rect x="586.58" y="2510.39" width="22.85" height="24.96" fill="#fff"/>
<rect x="655.43" y="2607.61" width="28.65" height="31.16" fill="#000"/><rect x="658.33" y="2610.91" width="22.85" height="24.96" fill="#fff"/>
<rect x="727.18" y="2706.76" width="28.65" height="31.16" fill="#000"/><rect x="730.08" y="2710.06" width="22.85" height="24.96" fill="#fff"/>
<rect x="870.68" y="2912.9" width="28.65" height="31.16" fill="#000"/><rect x="873.58" y="2916.2" width="22.85" height="24.96" fill="#fff"/>
<rect x="1157.68" y="3262.78" width="28.65" height="31.16" fill="#000"/><rect x="1160.58" y="3266.08" width="22.85" height="24.96" fill="#fff"/>
<rect x="1588.18" y="3448.82" width="28.65" height="31.16" fill="#000"/><rect x="1591.08" y="3452.12" width="22.85" height="24.96" fill="#fff"/>
<rect x="2018.68" y="3535.02" width="28.65" height="31.16" fill="#000"/><rect x="2021.58" y="3538.32" width="22.85" height="24.96" fill="#fff"/>
<path d="M311.0,2164.0C311.0,2164.0 311.0,2164.0 315.8,2186.1C320.6,2208.1 330.1,2252.3 342.1,2284.8C354.1,2317.4 368.4,2338.3 387.5,2367.0C406.7,2395.7 430.6,2432.2 454.5,2470.5C478.4,2508.8 502.3,2549.0 526.2,2589.4C550.2,2629.8 574.1,2670.4 598.0,2712.0C621.9,2753.6 645.8,2796.2 669.8,2837.7C693.7,2879.2 717.6,2919.5 753.5,2977.9C789.3,3036.2 837.2,3112.4 908.9,3198.9C980.7,3285.3 1076.3,3381.9 1195.9,3440.3C1315.5,3498.7 1459.0,3518.9 1602.5,3530.9C1746.0,3542.9 1889.5,3546.7 1961.2,3548.7C2033.0,3550.6 2033.0,3550.6 2033.0,3550.6" fill="none" stroke="#000" stroke-width="4.8" stroke-linejoin="round"/>
<polygon points="311,2144.78 314.9,2157.72 327.5,2157.72 317.3,2165.71 321.2,2178.64 311,2170.65 300.8,2178.64 304.7,2165.71 294.5,2157.72 307.1,2157.72" fill="#fff" stroke="#000" stroke-width="2.7" stroke-linejoin="round"/>
<polygon points="339.7,2277.2 343.6,2290.14 356.2,2290.14 346,2298.13 349.9,2311.06 339.7,2303.07 329.5,2311.06 333.4,2298.13 323.2,2290.14 335.8,2290.14" fill="#fff" stroke="#000" stroke-width="2.7" stroke-linejoin="round"/>
<polygon points="382.75,2340.06 386.65,2352.99 399.25,2353 389.05,2360.99 392.95,2373.92 382.75,2365.93 372.55,2373.92 376.45,2360.99 366.25,2353 378.85,2352.99" fill="#fff" stroke="#000" stroke-width="2.7" stroke-linejoin="round"/>
<polygon points="454.5,2449.37 458.4,2462.31 471,2462.31 460.8,2470.3 464.7,2483.23 454.5,2475.24 444.3,2483.23 448.2,2470.3 438,2462.31 450.6,2462.31" fill="#fff" stroke="#000" stroke-width="2.7" stroke-linejoin="round"/>
<polygon points="526.25,2570.01 530.15,2582.94 542.75,2582.94 532.55,2590.93 536.45,2603.87 526.25,2595.87 516.05,2603.87 519.95,2590.93 509.75,2582.94 522.35,2582.94" fill="#fff" stroke="#000" stroke-width="2.7" stroke-linejoin="round"/>
<polygon points="598,2691.8 601.9,2704.73 614.5,2704.73 604.3,2712.72 608.2,2725.66 598,2717.66 587.8,2725.66 591.7,2712.72 581.5,2704.73 594.1,2704.73" fill="#fff" stroke="#000" stroke-width="2.7" stroke-linejoin="round"/>
<polygon points="669.75,2819.59 673.65,2832.53 686.25,2832.53 676.05,2840.52 679.95,2853.46 669.75,2845.46 659.55,2853.46 663.45,2840.52 653.25,2832.53 665.85,2832.53" fill="#fff" stroke="#000" stroke-width="2.7" stroke-linejoin="round"/>
<polygon points="741.5,2940.69 745.4,2953.62 758,2953.62 747.8,2961.62 751.7,2974.55 741.5,2966.56 731.3,2974.55 735.2,2961.62 725,2953.62 737.6,2953.62" fill="#fff" stroke="#000" stroke-width="2.7" stroke-linejoin="round"/>
<polygon points="885,3169.48 888.9,3182.41 901.5,3182.41 891.3,3190.41 895.2,3203.34 885,3195.35 874.8,3203.34 878.7,3190.41 868.5,3182.41 881.1,3182.41" fill="#fff" stroke="#000" stroke-width="2.7" stroke-linejoin="round"/>
<polygon points="1172,3459.28 1175.9,3472.21 1188.5,3472.21 1178.3,3480.21 1182.2,3493.14 1172,3485.15 1161.8,3493.14 1165.7,3480.21 1155.5,3472.21 1168.1,3472.21" fill="#fff" stroke="#000" stroke-width="2.7" stroke-linejoin="round"/>
<polygon points="1602.5,3519.83 1606.4,3532.76 1619,3532.76 1608.8,3540.75 1612.7,3553.69 1602.5,3545.7 1592.3,3553.69 1596.2,3540.75 1586,3532.76 1598.6,3532.76" fill="#fff" stroke="#000" stroke-width="2.7" stroke-linejoin="round"/>
<polygon points="2033,3531.38 2036.9,3544.32 2049.5,3544.32 2039.3,3552.31 2043.2,3565.24 2033,3557.25 2022.8,3565.24 2026.7,3552.31 2016.5,3544.32 2029.1,3544.32" fill="#fff" stroke="#000" stroke-width="2.7" stroke-linejoin="round"/>
<path d="M311.0,2164.0C311.0,2164.0 311.0,2164.0 315.8,2182.1C320.6,2200.1 330.1,2236.3 342.1,2266.9C354.1,2297.6 368.4,2322.8 387.5,2361.8C406.7,2400.8 430.6,2453.6 454.5,2509.2C478.4,2564.7 502.3,2623.0 526.2,2682.7C550.2,2742.4 574.1,2803.7 598.0,2864.7C621.9,2925.6 645.8,2986.3 669.8,3043.3C693.7,3100.2 717.6,3153.3 753.5,3215.2C789.3,3277.1 837.2,3347.8 908.9,3397.7C980.7,3447.7 1076.3,3477.0 1195.9,3496.5C1315.5,3516.0 1459.0,3525.8 1602.5,3533.2C1746.0,3540.6 1889.5,3545.6 1961.2,3548.1C2033.0,3550.6 2033.0,3550.6 2033.0,3550.6" fill="none" stroke="#000" stroke-width="4.8" stroke-linejoin="round"/>
<polygon points="311,2143.96 328.85,2157.81 322.03,2180.21 299.97,2180.21 293.15,2157.81" fill="#000"/><polygon points="298.5,2165.4 323.5,2165.4 319.88,2176.71 302.12,2176.71" fill="#fff"/>
<polygon points="339.7,2252.34 357.55,2266.19 350.73,2288.6 328.67,2288.6 321.85,2266.19" fill="#000"/><polygon points="327.2,2273.79 352.2,2273.79 348.58,2285.1 330.82,2285.1" fill="#fff"/>
<polygon points="382.75,2327.91 400.6,2341.76 393.78,2364.17 371.72,2364.17 364.9,2341.76" fill="#000"/><polygon points="370.25,2349.36 395.25,2349.36 391.63,2360.67 373.87,2360.67" fill="#fff"/>
<polygon points="454.5,2486.45 472.35,2500.3 465.53,2522.7 443.47,2522.7 436.65,2500.3" fill="#000"/><polygon points="442,2507.89 467,2507.89 463.38,2519.2 445.62,2519.2" fill="#fff"/>
<polygon points="526.25,2661.16 544.1,2675.01 537.28,2697.42 515.22,2697.42 508.4,2675.01" fill="#000"/><polygon points="513.75,2682.6 538.75,2682.6 535.13,2693.92 517.37,2693.92" fill="#fff"/>
<polygon points="598,2844.89 615.85,2858.73 609.03,2881.14 586.97,2881.14 580.15,2858.73" fill="#000"/><polygon points="585.5,2866.33 610.5,2866.33 606.88,2877.64 589.12,2877.64" fill="#fff"/>
<polygon points="669.75,3026.99 687.6,3040.84 680.78,3063.25 658.72,3063.25 651.9,3040.84" fill="#000"/><polygon points="657.25,3048.43 682.25,3048.43 678.63,3059.75 660.87,3059.75" fill="#fff"/>
<polygon points="741.5,3186.45 759.35,3200.3 752.53,3222.71 730.47,3222.71 723.65,3200.3" fill="#000"/><polygon points="729,3207.89 754,3207.89 750.38,3219.21 732.62,3219.21" fill="#fff"/>
<polygon points="885,3398.37 902.85,3412.22 896.03,3434.62 873.97,3434.62 867.15,3412.22" fill="#000"/><polygon points="872.5,3419.81 897.5,3419.81 893.88,3431.12 876.12,3431.12" fill="#fff"/>
<polygon points="1172,3486.19 1189.85,3500.04 1183.03,3522.44 1160.97,3522.44 1154.15,3500.04" fill="#000"/><polygon points="1159.5,3507.63 1184.5,3507.63 1180.88,3518.94 1163.12,3518.94" fill="#fff"/>
<polygon points="1602.5,3515.54 1620.35,3529.39 1613.53,3551.79 1591.47,3551.79 1584.65,3529.39" fill="#000"/><polygon points="1590,3536.98 1615,3536.98 1611.38,3548.29 1593.62,3548.29" fill="#fff"/>
<polygon points="2033,3530.56 2050.85,3544.41 2044.03,3566.81 2021.97,3566.81 2015.15,3544.41" fill="#000"/><polygon points="2020.5,3552 2045.5,3552 2041.88,3563.31 2024.12,3563.31" fill="#fff"/>
</g>
<line x1="286" y1="2164" x2="2033" y2="2164" stroke="#000" stroke-width="6" stroke-linecap="round"/>
<text transform="translate(242.95,3565.1) scale(0.966,1)" x="0" y="0" font-size="54" stroke="#000" stroke-width="0.4" xml:space="preserve">0</text>
<text transform="translate(214.96,3333.75) scale(0.966,1)" x="0 28.98" y="0" font-size="54" stroke="#000" stroke-width="0.4" xml:space="preserve">10</text>
<text transform="translate(214.96,3102.4) scale(0.966,1)" x="0 28.98" y="0" font-size="54" stroke="#000" stroke-width="0.4" xml:space="preserve">20</text>
<text transform="translate(214.96,2871.05) scale(0.966,1)" x="0 28.98" y="0" font-size="54" stroke="#000" stroke-width="0.4" xml:space="preserve">30</text>
<text transform="translate(214.96,2639.7) scale(0.966,1)" x="0 28.98" y="0" font-size="54" stroke="#000" stroke-width="0.4" xml:space="preserve">40</text>
<text transform="translate(214.96,2408.35) scale(0.966,1)" x="0 28.98" y="0" font-size="54" stroke="#000" stroke-width="0.4" xml:space="preserve">50</text>
<text transform="translate(214.96,2177) scale(0.966,1)" x="0 28.98" y="0" font-size="54" stroke="#000" stroke-width="0.4" xml:space="preserve">60</text>
<text transform="translate(297.56,3637.3) scale(0.966,1)" x="0" y="0" font-size="54" stroke="#000" stroke-width="0.4" xml:space="preserve">0</text>
<text transform="translate(570.51,3637.3) scale(0.966,1)" x="0 28.98" y="0" font-size="54" stroke="#000" stroke-width="0.4" xml:space="preserve">20</text>
<text transform="translate(858,3637.3) scale(0.966,1)" x="0 28.98" y="0" font-size="54" stroke="#000" stroke-width="0.4" xml:space="preserve">40</text>
<text transform="translate(1144.51,3637.3) scale(0.966,1)" x="0 28.98" y="0" font-size="54" stroke="#000" stroke-width="0.4" xml:space="preserve">60</text>
<text transform="translate(1431.51,3637.3) scale(0.966,1)" x="0 28.98" y="0" font-size="54" stroke="#000" stroke-width="0.4" xml:space="preserve">80</text>
<text transform="translate(1704.31,3637.3) scale(0.966,1)" x="0 28.98 57.96" y="0" font-size="54" stroke="#000" stroke-width="0.4" xml:space="preserve">100</text>
<text transform="translate(1991.31,3637.3) scale(0.966,1)" x="0 28.98 57.96" y="0" font-size="54" stroke="#000" stroke-width="0.4" xml:space="preserve">120</text>
<text transform="translate(1030.73,3717.8) scale(0.966,1)" x="0 17.57 31.63 84.32 119.5 137.07 158.13 210.82 224.88 260.05" y="0" font-size="68.5" stroke="#000" stroke-width="0.4" xml:space="preserve">time (min)</text>
<text transform="translate(179.8,3330.9) rotate(-90) translate(0,0) scale(0.966,1)" x="0 45.15 94.04 112.85 150.49 188.14 206.95 240.8 278.45 316.09 349.94 387.59 425.24 444.04 466.59 504.24 523.04 538.08 575.73 613.38 632.19 654.73 711.12 748.77 767.58 805.22" y="0" font-size="68.5" stroke="#000" stroke-width="0.4" xml:space="preserve">AR 18 concentration (mg/L)</text>
<text transform="translate(549.34,2219.2) scale(0.966,1)" x="0 20.38 61.19" y="0" font-size="68.5" stroke="#000" stroke-width="0.4" xml:space="preserve">(B)</text>
<rect x="1683.5" y="2202.5" width="318" height="483.6" fill="#fff" stroke="#000" stroke-width="3"/>
<line x1="1691.2" y1="2247.6" x2="1831.8" y2="2247.6" stroke="#000" stroke-width="5" stroke-linecap="butt"/>
<rect x="1746.41" y="2231.5" width="29.38" height="32.21" fill="#000"/>
<text transform="translate(1845.2,2268.6) scale(0.966,1)" x="0 35.18 52.76 105.45" y="0" font-size="68.5" stroke="#000" stroke-width="0.4" xml:space="preserve">1 mM</text>
<line x1="1691.2" y1="2327.5" x2="1831.8" y2="2327.5" stroke="#000" stroke-width="5" stroke-linecap="butt"/>
<ellipse cx="1761.1" cy="2327.5" rx="16.14" ry="17.84" fill="#000"/>
<text transform="translate(1845.2,2349.06) scale(0.966,1)" x="0 35.18 52.76 105.45" y="0" font-size="68.5" stroke="#000" stroke-width="0.4" xml:space="preserve">2 mM</text>
<line x1="1691.2" y1="2408.4" x2="1831.8" y2="2408.4" stroke="#000" stroke-width="5" stroke-linecap="butt"/>
<polygon points="1760.38,2385.05 1761.82,2385.05 1780.67,2418.24 1780.67,2420.8 1741.53,2420.8 1741.53,2418.24" fill="#000"/><polygon points="1761.1,2389.83 1775.87,2417.9 1746.33,2417.9" fill="#fff"/>
<text transform="translate(1845.2,2429.52) scale(0.966,1)" x="0 35.18 52.76 105.45" y="0" font-size="68.5" stroke="#000" stroke-width="0.4" xml:space="preserve">3 mM</text>
<line x1="1691.2" y1="2488.4" x2="1831.8" y2="2488.4" stroke="#000" stroke-width="5" stroke-linecap="butt"/>
<rect x="1746.2" y="2472.59" width="29.8" height="32.41" fill="#000"/><rect x="1749.1" y="2475.89" width="24" height="26.21" fill="#fff"/>
<text transform="translate(1845.2,2509.98) scale(0.966,1)" x="0 35.18 52.76 105.45" y="0" font-size="68.5" stroke="#000" stroke-width="0.4" xml:space="preserve">4 mM</text>
<line x1="1691.2" y1="2568.3" x2="1831.8" y2="2568.3" stroke="#000" stroke-width="5" stroke-linecap="butt"/>
<polygon points="1761.1,2549.08 1765,2562.02 1777.6,2562.02 1767.4,2570.01 1771.3,2582.94 1761.1,2574.95 1750.9,2582.94 1754.8,2570.01 1744.6,2562.02 1757.2,2562.02" fill="#fff" stroke="#000" stroke-width="2.7" stroke-linejoin="round"/>
<text transform="translate(1845.2,2590.44) scale(0.966,1)" x="0 35.18 52.76 105.45" y="0" font-size="68.5" stroke="#000" stroke-width="0.4" xml:space="preserve">5 mM</text>
<line x1="1691.2" y1="2648.7" x2="1831.8" y2="2648.7" stroke="#000" stroke-width="5" stroke-linecap="butt"/>
<polygon points="1761.1,2628.66 1778.95,2642.51 1772.13,2664.91 1750.07,2664.91 1743.25,2642.51" fill="#000"/><polygon points="1748.6,2650.1 1773.6,2650.1 1769.98,2661.41 1752.22,2661.41" fill="#fff"/>
<text transform="translate(1845.2,2670.9) scale(0.966,1)" x="0 35.18 52.76 105.45" y="0" font-size="68.5" stroke="#000" stroke-width="0.4" xml:space="preserve">6 mM</text>
</g>
</svg></body></html>
